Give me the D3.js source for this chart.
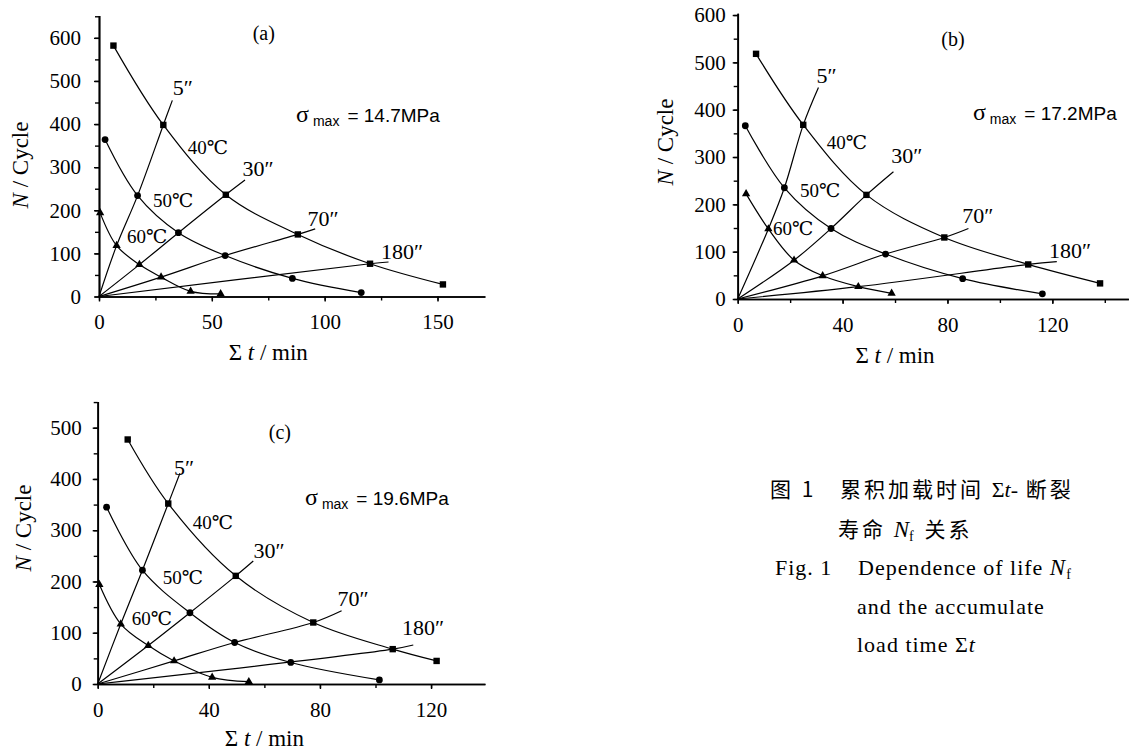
<!DOCTYPE html>
<html>
<head>
<meta charset="utf-8">
<script src="https://cdn.jsdelivr.net/npm/d3@7"></script>
<style>
body { margin: 0; background: #fff; }
text { fill: #000; }
</style>
</head>
<body>
<svg id="chart" width="1130" height="751"></svg>
<script>
// ---- data ----
var temps = ["40℃", "50℃", "60℃"]
var markerTypes = ["square", "circle", "triangle"]
var periods = ["5″", "30″", "70″", "180″"]
var panelNames = ["(a)", "(b)", "(c)"]
var stress = ["14.7MPa", "17.2MPa", "19.6MPa"]

// (a) sigma max = 14.7 MPa  [sum t (min), N (cycle)]
var a40 = [[6.4, 582], [28.5, 398], [56.2, 236], [88.1, 144], [120.1, 76], [152.4, 28]]
var a50 = [[2.7, 364], [17.1, 234], [35.2, 148], [55.9, 95], [85.7, 42], [116.2, 9]]
var a60 = [[0.5, 194], [7.8, 118], [17.9, 74], [27.5, 45], [40.6, 12], [53.9, 6]]
var a5 = [[0, 0], [7.8, 118], [17.1, 234], [28.5, 398], [32.5, 455]]
var a30 = [[0, 0], [17.9, 74], [35.2, 148], [56.2, 236], [64.7, 270]]
var a70 = [[0, 0], [27.5, 45], [55.9, 95], [88.1, 144], [95.8, 157]]
var a180 = [[0, 0], [120.1, 76], [128.3, 80]]

// (b) sigma max = 17.2 MPa
var b40 = [[7.0, 518], [25.0, 368], [49.1, 220], [78.8, 130], [110.8, 73], [138.2, 33]]
var b50 = [[2.9, 366], [17.8, 235], [35.6, 149], [56.4, 95], [85.8, 43], [116.2, 11]]
var b60 = [[3.2, 222], [11.7, 148], [21.5, 82], [32.4, 49], [46.0, 26], [58.7, 12]]
var b5 = [[0, 0], [11.7, 148], [17.8, 235], [25.0, 368], [30.8, 447]]
var b30 = [[0, 0], [21.5, 82], [35.6, 149], [49.1, 220], [59.4, 269]]
var b70 = [[0, 0], [32.4, 49], [56.4, 95], [78.8, 130], [88.0, 149]]
var b180 = [[0, 0], [46.0, 26], [110.8, 73], [121.7, 79]]

// (c) sigma max = 19.6 MPa
var c40 = [[10.8, 477], [25.4, 352], [49.7, 211], [77.6, 120], [106.2, 68], [122.0, 45]]
var c50 = [[3.2, 345], [16.1, 222], [33.2, 139], [49.3, 81], [69.5, 42], [101.4, 8]]
var c60 = [[0.6, 194], [8.3, 117], [18.2, 75], [27.5, 45], [41.2, 13], [54.4, 4.5]]
var c5 = [[0, 0], [8.3, 117], [16.1, 222], [25.4, 352], [29.6, 411]]
var c30 = [[0, 0], [18.2, 75], [33.2, 139], [49.7, 211], [56.0, 240]]
var c70 = [[0, 0], [27.5, 45], [49.3, 81], [77.6, 120], [87.8, 143]]
var c180 = [[0, 0], [106.2, 68], [113.6, 76]]

var curves = [[a40, a50, a60], [b40, b50, b60], [c40, c50, c60]]
var periodLines = [[a5, a30, a70, a180], [b5, b30, b70, b180], [c5, c30, c70, c180]]

// ---- layout (pixels / label anchors in data units) ----
var layout = [
    { x0: 99, y0: 296.5, kx: 2.2567, ky: 0.4311, xMax: 171, yMax: 652,
      xTicks: [0, 50, 100, 150], xMinor: 25, yTicks: [0, 100, 200, 300, 400, 500, 600],
      yPad: 13, yTitle: [20, 165], xTitle: 352,
      name: [73, 612], sigma: [87.3, 420],
      tempAt: [[48.3, 346], [32.8, 223], [21.3, 139]],
      periodAt: [[37.1, 485], [70.5, 297], [99.3, 181], [134.3, 104]] },
    { x0: 737.7, y0: 299, kx: 2.622, ky: 0.4733, xMax: 149, yMax: 604,
      xTicks: [0, 40, 80, 120], xMinor: 20, yTicks: [0, 100, 200, 300, 400, 500, 600],
      yPad: 7, yTitle: [665, 142], xTitle: 355,
      name: [82.1, 549], sigma: [89.7, 393],
      tempAt: [[41.6, 330], [31.4, 230], [21.1, 150]],
      periodAt: [[33.9, 473], [64.5, 304], [91.6, 177], [126.8, 102]] },
    { x0: 97.7, y0: 684, kx: 2.778, ky: 0.5126, xMax: 139.4, yMax: 551,
      xTicks: [0, 40, 80, 120], xMinor: 20, yTicks: [0, 100, 200, 300, 400, 500],
      yPad: 11, yTitle: [22.7, 528], xTitle: 738,
      name: [65.6, 492], sigma: [74.6, 363],
      tempAt: [[41.5, 316], [30.7, 209], [19.5, 129]],
      periodAt: [[31.1, 423], [61.7, 261], [91.9, 168], [117.1, 111]] }
]

var serif = "'Liberation Serif', 'Times New Roman', 'DejaVu Serif', 'Noto Sans CJK SC', serif"
var sans = "'Liberation Sans', Arial, sans-serif"
var svg = d3.select("#chart")

layout.forEach(function(L, p) {
    var x = d3.scaleLinear().domain([0, L.xMax]).range([L.x0, L.x0 + L.kx * L.xMax])
    var y = d3.scaleLinear().domain([0, L.yMax]).range([L.y0, L.y0 - L.ky * L.yMax])
    var g = svg.append("g")

    // minor ticks
    var xm = d3.range(0, L.xMax, L.xMinor)
    var ym = d3.range(0, L.yMax, 50)
    g.append("g").attr("transform", "translate(0," + L.y0 + ")")
        .call(d3.axisBottom(x).tickValues(xm).tickSize(4).tickSizeOuter(0).tickFormat(""))
    g.append("g").attr("transform", "translate(" + L.x0 + ",0)")
        .call(d3.axisLeft(y).tickValues(ym).tickSize(4).tickSizeOuter(0).tickFormat(""))

    // major ticks + labels
    g.append("g").attr("transform", "translate(0," + L.y0 + ")")
        .call(d3.axisBottom(x).tickValues(L.xTicks).tickSize(5).tickSizeOuter(0).tickPadding(13))
    g.append("g").attr("transform", "translate(" + L.x0 + ",0)")
        .call(d3.axisLeft(y).tickValues(L.yTicks).tickSize(5).tickSizeOuter(0).tickPadding(L.yPad))
    g.selectAll(".domain").attr("stroke", "#000").attr("stroke-width", 1.7)
    g.selectAll(".tick line").attr("stroke", "#000").attr("stroke-width", 1.4)
    g.selectAll(".tick text")
        .style("font-family", serif).style("font-size", "21px").attr("fill", "#000")

    // axis titles
    var yt = g.append("text")
        .attr("transform", "translate(" + L.yTitle[0] + "," + L.yTitle[1] + ") rotate(-90)")
        .attr("text-anchor", "middle").attr("dy", "0.35em")
        .attr("font-family", serif).attr("font-size", 23)
    yt.append("tspan").attr("font-style", "italic").text("N")
    yt.append("tspan").text(" / Cycle")

    var xt = g.append("text")
        .attr("x", L.x0 + L.kx * (L.xTicks[1] + L.xTicks[2]) / 2).attr("y", L.xTitle)
        .attr("text-anchor", "middle").attr("dy", "0.35em")
        .attr("font-family", serif).attr("font-size", 23)
    xt.append("tspan").text("Σ  ")
    xt.append("tspan").attr("font-style", "italic").text("t")
    xt.append("tspan").text(" / min")

    // period lines (5", 30", 70", 180")
    var line = d3.line()
        .x(function(d) { return x(d[0]) })
        .y(function(d) { return y(d[1]) })
        .curve(d3.curveCatmullRom.alpha(0.5))
    g.selectAll(".period").data(periodLines[p]).enter().append("path")
        .attr("class", "period")
        .attr("d", line)
        .attr("fill", "none").attr("stroke", "#000").attr("stroke-width", 1.2)

    // temperature curves
    g.selectAll(".temp").data(curves[p]).enter().append("path")
        .attr("class", "temp")
        .attr("d", line)
        .attr("fill", "none").attr("stroke", "#000").attr("stroke-width", 1.2)

    // markers
    curves[p].forEach(function(pts, k) {
        var type = markerTypes[k]
        var mg = g.append("g")
        if (type === "square") {
            mg.selectAll("rect").data(pts).enter().append("rect")
                .attr("x", function(d) { return x(d[0]) - 3.2 })
                .attr("y", function(d) { return y(d[1]) - 3.2 })
                .attr("width", 6.4).attr("height", 6.4).attr("fill", "#000")
        } else if (type === "circle") {
            mg.selectAll("circle").data(pts).enter().append("circle")
                .attr("cx", function(d) { return x(d[0]) })
                .attr("cy", function(d) { return y(d[1]) })
                .attr("r", 3.4).attr("fill", "#000")
        } else {
            mg.selectAll("path").data(pts).enter().append("path")
                .attr("d", d3.symbol(d3.symbolTriangle, 30))
                .attr("transform", function(d) { return "translate(" + x(d[0]) + "," + y(d[1]) + ")" })
                .attr("fill", "#000")
        }
    })

    // labels
    g.selectAll(".tlab").data(temps).enter().append("text")
        .attr("class", "tlab")
        .attr("x", function(d, i) { return x(L.tempAt[i][0]) })
        .attr("y", function(d, i) { return y(L.tempAt[i][1]) })
        .attr("dy", "0.35em").attr("text-anchor", "middle")
        .attr("font-family", serif).attr("font-size", 19)
        .text(function(d) { return d })

    g.selectAll(".plab").data(periods).enter().append("text")
        .attr("class", "plab")
        .attr("x", function(d, i) { return x(L.periodAt[i][0]) })
        .attr("y", function(d, i) { return y(L.periodAt[i][1]) })
        .attr("dy", "0.35em").attr("text-anchor", "middle")
        .attr("font-family", serif).attr("font-size", 22)
        .text(function(d) { return d })

    g.append("text")
        .attr("x", x(L.name[0])).attr("y", y(L.name[1]))
        .attr("dy", "0.35em").attr("text-anchor", "middle")
        .attr("font-family", serif).attr("font-size", 20)
        .text(panelNames[p])

    var sg = g.append("text")
        .attr("x", x(L.sigma[0])).attr("y", y(L.sigma[1]))
        .attr("dy", "0.35em").attr("font-family", sans).attr("font-size", 19)
    sg.append("tspan").attr("font-family", serif).attr("font-size", 24).text("σ")
    sg.append("tspan").attr("font-size", 14).attr("dy", 4).attr("dx", 4).text("max")
    sg.append("tspan").attr("dy", -4).attr("dx", 8).text("= " + stress[p])
})

// ---- caption ----
var cjk = "'Noto Sans CJK SC', sans-serif"
var cap = svg.append("g")
var l1 = cap.append("text").attr("x", 770).attr("y", 497)
    .attr("font-family", cjk).attr("font-size", 21).attr("letter-spacing", 3)
l1.append("tspan").text("图 1")
l1.append("tspan").attr("x", 840).text("累积加载时间 ")
l1.append("tspan").attr("font-family", serif).attr("letter-spacing", 0).attr("font-size", 22).text("Σ")
l1.append("tspan").attr("font-family", serif).attr("font-style", "italic").attr("letter-spacing", 0).attr("font-size", 22).text("t-")
l1.append("tspan").text(" 断裂")

var l2 = cap.append("text").attr("x", 838).attr("y", 537)
    .attr("font-family", cjk).attr("font-size", 21).attr("letter-spacing", 3)
l2.append("tspan").text("寿命 ")
l2.append("tspan").attr("font-family", serif).attr("font-style", "italic").attr("font-size", 23).attr("letter-spacing", 0).text("N")
l2.append("tspan").attr("font-family", serif).attr("font-size", 14).attr("dy", 4).text("f")
l2.append("tspan").attr("dy", -4).text(" 关系")

var l3 = cap.append("text").attr("x", 775).attr("y", 575)
    .attr("font-family", serif).attr("font-size", 22).attr("letter-spacing", 1)
l3.append("tspan").text("Fig. 1")
l3.append("tspan").attr("x", 858).text("Dependence of life ")
l3.append("tspan").attr("font-style", "italic").attr("font-size", 23).text("N")
l3.append("tspan").attr("font-size", 14).attr("dy", 4).text("f")

cap.append("text").attr("x", 857).attr("y", 614)
    .attr("font-family", serif).attr("font-size", 22).attr("letter-spacing", 1)
    .text("and the accumulate")

var l5 = cap.append("text").attr("x", 857).attr("y", 652)
    .attr("font-family", serif).attr("font-size", 22).attr("letter-spacing", 1)
l5.append("tspan").text("load time Σ")
l5.append("tspan").attr("font-style", "italic").text("t")
</script>
</body>
</html>
